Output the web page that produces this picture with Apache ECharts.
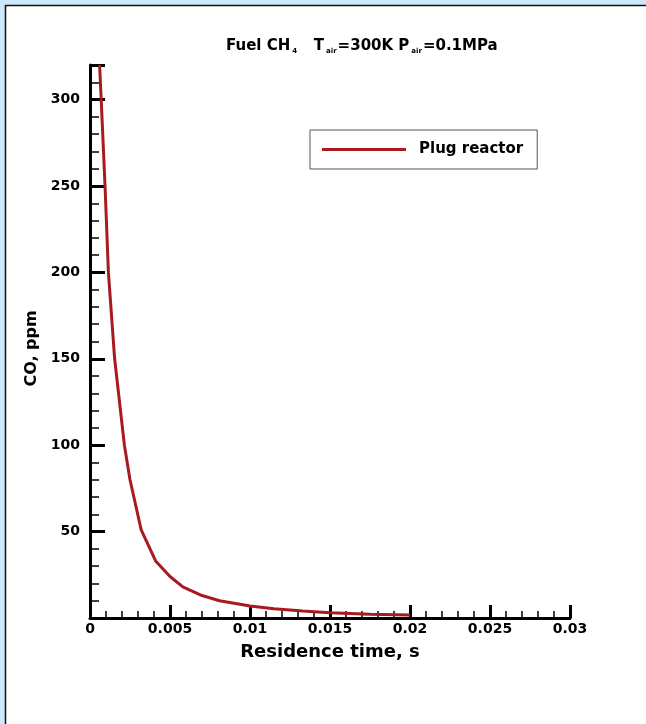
<!DOCTYPE html>
<html>
<head>
<meta charset="utf-8">
<script src="https://cdn.jsdelivr.net/npm/echarts@6/dist/echarts.min.js"></script>
<style>
  html, body { margin: 0; padding: 0; background: #cde9fb; }
  #chart { width: 646px; height: 724px; }
</style>
</head>
<body>
<div id="chart"></div>
<script>
// residence time (s) and CO (ppm)
const timeS = [0.0006, 0.0007, 0.00094, 0.00115, 0.00154, 0.00215, 0.0025, 0.0032, 0.0041, 0.005, 0.0058, 0.007, 0.0081, 0.01, 0.0115, 0.0133, 0.015, 0.0175, 0.02]
const coPpm = [320, 300, 250, 200, 150, 100, 80, 51, 33, 24, 18, 13, 10, 7, 5.3, 4, 3, 2.2, 1.7]
const seriesName = 'Plug reactor'

const font = 'DejaVu Sans, Arial, sans-serif'
const chart = echarts.init(document.getElementById('chart'))

chart.setOption({
  backgroundColor: 'transparent',
  animation: false,
  graphic: [
    {
      type: 'rect',
      z: -10,
      shape: { x: 5.5, y: 5.5, width: 700, height: 800 },
      style: { fill: '#ffffff', stroke: '#111', lineWidth: 1.5 }
    }
  ],
  title: {
    left: 221,
    top: 31,
    text: '{m|Fuel CH}{s|4}{m|   T}{s|air}{m|=300K P}{s|air}{m|=0.1MPa}',
    textStyle: {
      rich: {
        m: { fontFamily: font, fontWeight: 'bold', fontSize: 15, color: '#000', lineHeight: 20 },
        s: { fontFamily: font, fontWeight: 'bold', fontSize: 7, color: '#000', padding: [10, 1, 0, 2], lineHeight: 20 }
      }
    }
  },
  legend: {
    left: 310,
    top: 130,
    data: [{ name: seriesName, icon: 'rect' }],
    itemWidth: 84,
    itemHeight: 3,
    padding: [12, 14, 12, 12],
    backgroundColor: '#fff',
    borderColor: '#555',
    borderWidth: 1,
    borderRadius: 0,
    textStyle: { fontFamily: font, fontWeight: 'bold', fontSize: 15, color: '#000', padding: [0, 0, 0, 8] }
  },
  grid: { left: 90, right: 76, top: 65, bottom: 106, containLabel: false },
  xAxis: {
    type: 'value',
    min: 0,
    max: 0.03,
    interval: 0.005,
    name: 'Residence time, s',
    nameLocation: 'middle',
    nameGap: 25,
    nameTextStyle: { fontFamily: font, fontWeight: 'bold', fontSize: 18, color: '#000' },
    axisLine: { onZero: false, lineStyle: { color: '#000', width: 3 } },
    axisTick: { inside: true, length: 13, lineStyle: { color: '#000', width: 3 } },
    minorTick: { show: true, splitNumber: 5, length: 7, lineStyle: { color: '#000', width: 1.5 } },
    axisLabel: {
      margin: 4,
      fontFamily: font, fontWeight: 'bold', fontSize: 14, color: '#000',
      formatter: v => String(parseFloat(v.toFixed(3)))
    },
    splitLine: { show: false }
  },
  yAxis: {
    type: 'value',
    min: 0,
    max: 320,
    interval: 50,
    name: 'CO, ppm',
    nameLocation: 'middle',
    nameGap: 50,
    nameTextStyle: { fontFamily: font, fontWeight: 'bold', fontSize: 16, color: '#000', padding: [0, 14, 0, 0] },
    axisLine: { onZero: false, lineStyle: { color: '#000', width: 3 } },
    axisTick: { inside: true, length: 15, lineStyle: { color: '#000', width: 3 } },
    minorTick: { show: true, splitNumber: 5, length: 9, lineStyle: { color: '#000', width: 1.5 } },
    axisLabel: {
      margin: 10,
      fontFamily: font, fontWeight: 'bold', fontSize: 14, color: '#000',
      formatter: v => (v === 0 || v > 300 ? '' : String(v))
    },
    splitLine: { show: false }
  },
  series: [
    {
      name: seriesName,
      type: 'line',
      data: timeS.map((t, i) => [t, coPpm[i]]),
      showSymbol: false,
      smooth: false,
      clip: true,
      color: '#a81a1e',
      lineStyle: { color: '#a81a1e', width: 3 }
    }
  ]
})
</script>
</body>
</html>
